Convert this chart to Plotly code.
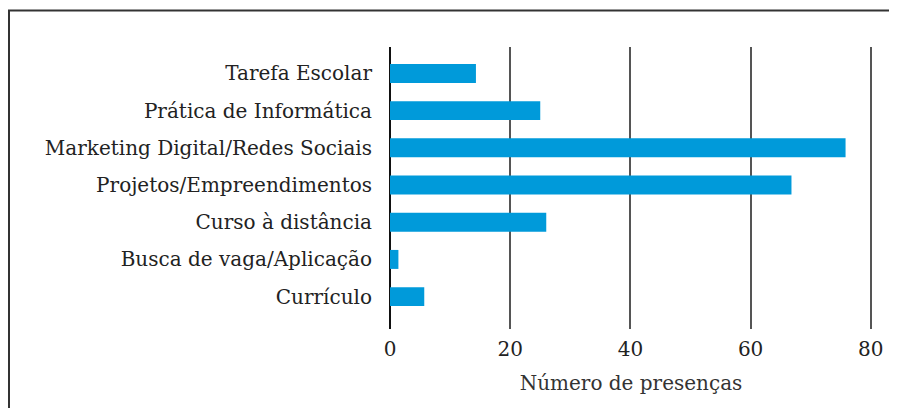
import plotly.graph_objects as go

categories = ["Currículo", "Busca de vaga/Aplicação", "Curso à distância",
              "Projetos/Empreendimentos", "Marketing Digital/Redes Sociais",
              "Prática de Informática", "Tarefa Escolar"]
values = [5.7, 1.4, 26.0, 66.8, 75.8, 25.0, 14.3]
x_ticks = [0, 20, 40, 60, 80]
x_title = "Número de presenças"

# page body has an 8px default margin, so the figure is 8px smaller
W, H = 889, 400
ml, mr, mt, mb = 382, 25, 39, 79
pw, ph = W - ml - mr, H - mt - mb

fig = go.Figure(go.Bar(
    x=values, y=categories, orientation="h",
    marker=dict(color="#009ADA", line=dict(width=0)),
    width=0.51,
))

font_family = "DejaVu Serif"
fig.update_layout(
    width=W, height=H,
    margin=dict(l=ml, r=mr, t=mt, b=mb),
    paper_bgcolor="white", plot_bgcolor="white",
    font=dict(family=font_family, color="#222222"),
    showlegend=False,
)
fig.update_xaxes(
    range=[0, 80.2], tickvals=x_ticks, showgrid=True,
    gridcolor="#555555", gridwidth=1.5,
    zeroline=True, zerolinecolor="#111111", zerolinewidth=1.5,
    tickfont=dict(size=20, family=font_family, color="#222222"),
    ticks="", showline=False, ticklabelstandoff=6,
    title=dict(text=x_title, font=dict(size=20, family=font_family, color="#333333"), standoff=15),
)
fig.update_yaxes(
    type="category", categoryorder="array", categoryarray=categories,
    range=[-0.87, 6.71], showgrid=False, zeroline=False, showline=False,
    ticks="", ticklabelstandoff=17,
    tickfont=dict(size=20, family=font_family, color="#222222"),
)
# outer frame (cropped at right and bottom)
fig.add_shape(type="rect", xref="paper", yref="paper",
              x0=(1 - ml) / pw, x1=(W + 20 - ml) / pw,
              y0=(mt + ph - (H + 20)) / ph, y1=(mt + ph - 2.5) / ph,
              line=dict(color="#333333", width=2), layer="below")

fig.write_html("out.html")
